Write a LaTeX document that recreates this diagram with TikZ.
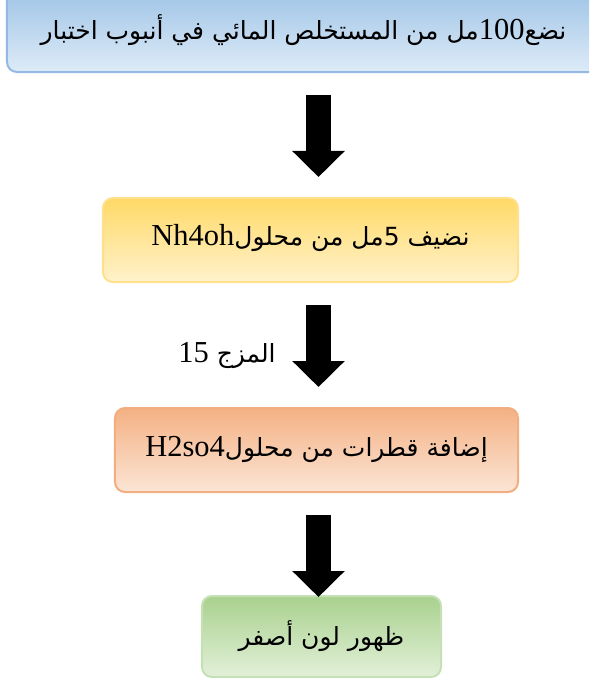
\documentclass[tikz,border=0pt]{standalone}
\usepackage{fontspec}
\setmainfont{Liberation Serif}
\newfontfamily\arabicfont[Script=Arabic,Scale=0.82]{DejaVu Sans}
\TeXXeTstate=1
\usetikzlibrary{arrows.meta,positioning}
\definecolor{StepBlue}     {HTML}{9DC3E6}
\definecolor{StepBlueLt}   {HTML}{DEEBF7}
\definecolor{StepBlueLine} {HTML}{95B9E2}
\definecolor{StepGold}     {HTML}{FFD966}
\definecolor{StepGoldLt}   {HTML}{FFF2CC}
\definecolor{StepGoldLine} {HTML}{FFE08C}
\definecolor{StepPeach}    {HTML}{F4B183}
\definecolor{StepPeachLt}  {HTML}{FBE5D6}
\definecolor{StepPeachLine}{HTML}{F2AE80}
\definecolor{StepSage}     {HTML}{A9D18E}
\definecolor{StepSageLt}   {HTML}{E2F0D9}
\definecolor{StepSageLine} {HTML}{C5E0B4}

\begin{document}
\begin{tikzpicture}[x=0.03cm,y=-0.03cm,
  stepbox/.style={rounded corners=0.3cm,line width=0.06cm,
    minimum height=2.52cm,inner sep=0pt,
    font=\fontsize{26}{30}\selectfont},
  bigarrow/.style={line width=0.75cm,
    -{Triangle[width=1.53cm,length=0.78cm]}}]
  \useasboundingbox (0,0) rectangle (589,678);
  \clip (0,0) rectangle (589,678);
  % Steps
  \node[stepbox,draw=StepBlueLine,top color=StepBlue,
    bottom color=StepBlueLt,minimum width=17.79cm]
    (step1) at (303.5,30)
    {\arabicfont\beginR نضع\beginL{\rmfamily 100}\endL مل من المستخلص المائي في أنبوب اختبار\endR};
  \node[stepbox,draw=StepGoldLine,top color=StepGold,
    bottom color=StepGoldLt,minimum width=12.45cm,text depth=0.3cm]
    (step2) at (310.5,240)
    {\arabicfont\beginR نضيف \beginL 5\endL مل من محلول\beginL{\rmfamily Nh4oh}\endL\endR};
  \node[stepbox,draw=StepPeachLine,top color=StepPeach,
    bottom color=StepPeachLt,minimum width=12.09cm,text depth=0.2cm]
    (step3) at (316.5,450)
    {\arabicfont\beginR إضافة قطرات من محلول\beginL{\rmfamily H2so4}\endL\endR};
  \node[stepbox,draw=StepSageLine,top color=StepSage,
    bottom color=StepSageLt,minimum width=7.17cm,minimum height=2.43cm]
    (step4) at (321.5,636.5)
    {\arabicfont\beginR ظهور لون أصفر\endR};
  % Arrows
  \coordinate (a1top) at (318.5,95);
  \coordinate (a1tip) at (318.5,177);
  \coordinate (a2top) at (318.5,305);
  \coordinate (a2tip) at (318.5,387);
  \coordinate (a3top) at (318.5,515);
  \coordinate (a3tip) at (318.5,597);
  \draw[bigarrow] (a1top) -- (a1tip);
  \draw[bigarrow] (a2top) -- (a2tip);
  \draw[bigarrow] (a3top) -- (a3tip);
  \node[font=\fontsize{26}{30}\selectfont] (mixlbl) at (227,355)
    {\arabicfont\beginR المزج \beginL{\rmfamily 15}\endL\endR};
\end{tikzpicture}
\end{document}
